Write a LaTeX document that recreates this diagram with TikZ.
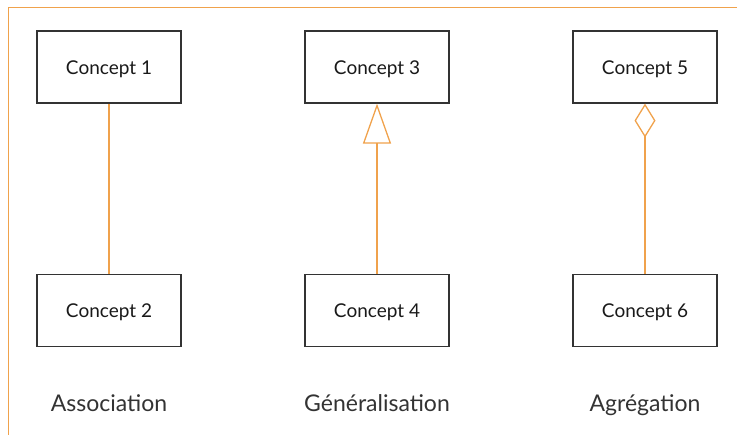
\documentclass[tikz,border=0pt]{standalone}
\usepackage{fontspec}
\setmainfont{Lato}
\usepackage{xcolor}
\usetikzlibrary{arrows.meta}
\definecolor{frameorange}{HTML}{F0A24C}
\definecolor{boxgray}{HTML}{333333}

\begin{document}
\begin{tikzpicture}[x=1bp,y=-1bp,
  concept/.style={draw=boxgray,line width=1.2bp,minimum width=144bp,minimum height=72bp,inner sep=0pt,
    text height=15bp,text depth=0pt,font=\fontsize{19bp}{22bp}\selectfont,text=black!90},
  kind/.style={anchor=base,font=\fontsize{23bp}{27bp}\selectfont,text=black!80},
  link/.style={draw=frameorange,line width=1.3bp}]
\useasboundingbox (0,0) rectangle (737,435);
\draw [frameorange,line width=1.2bp] (8.5,435) -- (8.5,7.5) -- (737,7.5);
\node [concept] (c1) at (109,67) {Concept 1};
\node [concept] (c2) at (109,310.5) {Concept 2};
\node [concept] (c3) at (377,67) {Concept 3};
\node [concept] (c4) at (377,310.5) {Concept 4};
\node [concept] (c5) at (645,67) {Concept 5};
\node [concept] (c6) at (645,310.5) {Concept 6};
\draw [link] (c2) -- (c1);
\draw [link,-{Triangle[open,length=40bp,width=28bp]}] (c4) -- (c3);
\draw [link,-{Diamond[open,length=34bp,width=21bp]}] (c6) -- (c5);
\node [kind] (assoc) at (109,411) {Association};
\node [kind] (gen) at (377,411) {Généralisation};
\node [kind] (agr) at (645,411) {Agrégation};
\end{tikzpicture}
\end{document}
